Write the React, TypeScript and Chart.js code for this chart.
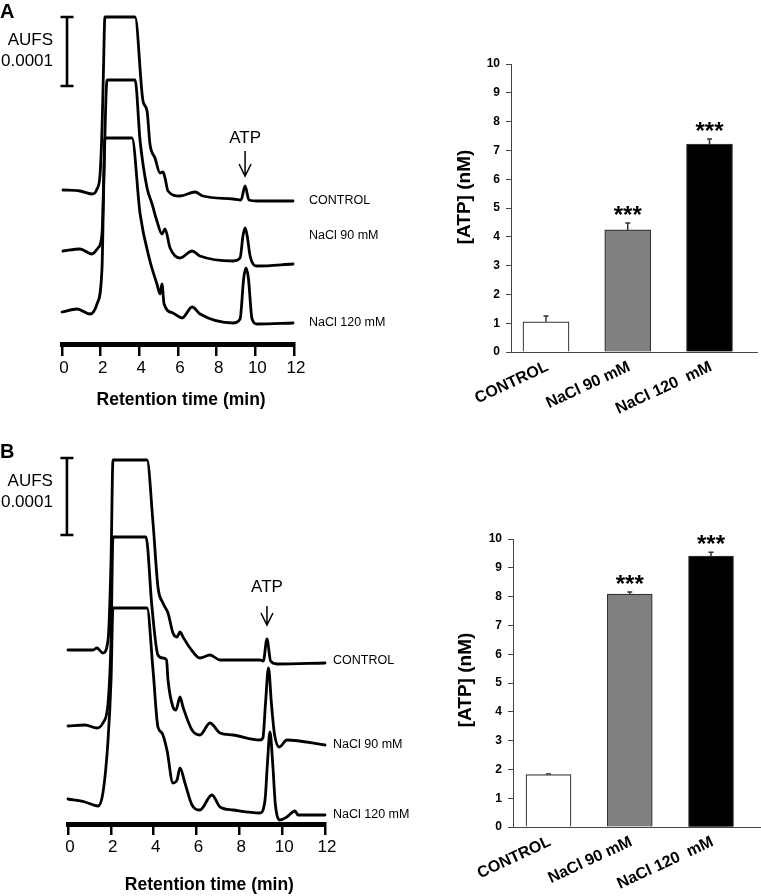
import React, { useEffect, useRef } from "react";
import { Chart, registerables } from "chart.js";

Chart.register(...registerables);

const FONT = '"Liberation Sans", Arial, Helvetica, sans-serif';

// ---------- Panel A chromatograms: retention time (min) / detector signal (a.u.) ----------
const aControlTime = [0.05, 0.93, 1.55, 1.81, 1.97, 2.07, 2.14, 2.22, 3.78, 4.19, 4.4, 4.55, 4.81, 5.07, 5.22, 5.33, 5.48, 6.1, 6.88, 7.29, 8.85, 9.26, 9.47, 9.67, 10.09, 11.95];
const aControlSignal = [154, 153, 150, 155, 170, 215, 270, 327, 327, 243, 233, 200, 186, 171, 172, 166, 153, 148, 152, 148, 145, 144, 158, 144, 143, 143];
const aNa90Time = [0.05, 0.93, 1.55, 1.86, 2.07, 2.17, 2.33, 3.78, 4.04, 4.4, 4.66, 4.91, 5.17, 5.33, 5.59, 6.1, 6.73, 7.14, 8.85, 9.21, 9.36, 9.47, 9.58, 9.73, 10.09, 11.95];
const aNa90Signal = [93, 95, 90, 96, 110, 173, 264, 264, 203, 156, 140, 123, 110, 115, 96, 86, 93, 88, 83, 86, 108, 116, 108, 88, 78, 80];
const aNa120Time = [0, 0.78, 1.45, 1.81, 2.07, 2.15, 2.22, 3.62, 4.04, 4.55, 4.91, 5.07, 5.17, 5.28, 5.74, 6.21, 6.73, 7.14, 8.85, 9.21, 9.4, 9.52, 9.64, 9.83, 10.09, 11.95];
const aNa120Signal = [32, 35, 30, 40, 76, 150, 206, 206, 130, 83, 60, 50, 60, 40, 31, 26, 37, 30, 21, 25, 66, 76, 66, 25, 20, 21];

// ---------- Panel B chromatograms ----------
const bControlTime = [0, 1.17, 1.35, 1.63, 1.87, 2.01, 2.1, 3.69, 3.97, 4.2, 4.43, 4.67, 4.9, 5.09, 5.23, 5.37, 5.7, 6.16, 6.63, 7.1, 8.96, 9.12, 9.29, 9.46, 9.76, 12];
const bControlSignal = [174, 174, 176, 171, 184, 264, 364, 364, 301, 237, 221, 211, 191, 187, 192, 187, 176, 166, 169, 164, 164, 163, 185, 163, 160, 161];
const bNa90Time = [0, 0.79, 1.35, 1.63, 1.87, 2.01, 2.1, 3.64, 3.92, 4.2, 4.43, 4.6, 4.67, 4.9, 5.04, 5.23, 5.37, 5.79, 6.16, 6.63, 7.1, 7.7, 8.96, 9.1, 9.22, 9.36, 9.5, 9.64, 9.87, 10.22, 12];
const bNa90Signal = [98, 99, 96, 101, 121, 184, 287, 287, 217, 169, 166, 164, 144, 117, 114, 127, 117, 94, 89, 101, 91, 89, 84, 86, 120, 156, 120, 90, 77, 84, 79];
const bNa120Time = [0, 0.79, 1.4, 1.63, 1.87, 2.01, 2.1, 3.69, 3.97, 4.2, 4.39, 4.62, 4.9, 5.09, 5.23, 5.46, 5.79, 6.16, 6.72, 7.1, 7.7, 8.96, 9.2, 9.31, 9.43, 9.56, 9.68, 9.9, 10.22, 10.6, 10.74, 12];
const bNa120Signal = [25, 22, 18, 31, 84, 144, 216, 216, 154, 97, 91, 74, 41, 44, 56, 41, 19, 14, 29, 17, 14, 11, 24, 60, 92, 60, 20, 4, 7, 13, 9, 9];

const retentionTicks = [0, 2, 4, 6, 8, 10, 12];
const traceNames = ["CONTROL", "NaCl 90 mM", "NaCl 120 mM"];

// ---------- Bar charts: [ATP] (nM) ----------
const barCategories = ["CONTROL", "NaCl 90 mM", "NaCl 120  mM"];
const atpA = [1.05, 4.24, 7.22];
const atpErrA = [0.2, 0.24, 0.18];
const atpB = [1.82, 8.09, 9.41];
const atpErrB = [0.02, 0.07, 0.13];
const significance = ["", "***", "***"];
const barColors = ["#ffffff", "#808080", "#000000"];
const atpTicks = [0, 1, 2, 3, 4, 5, 6, 7, 8, 9, 10];

type ChromCfg = {
  letter: string;
  traces: { time: number[]; signal: number[] }[];
  padding: { left: number; right: number; top: number; bottom: number };
  axisHeight: number;
  tickLength: number;
  yMax: number;
  scaleBarTime: number;
  scaleBarTop: number;
  scaleBarBottom: number;
  atpTime: number;
  atpTextLevel: number;
  arrowTop: number;
  arrowBottom: number;
  labelGap: number;
  labelLevels: number[];
  titleTime: number;
  titleDy: number;
};

const chromA: ChromCfg = {
  letter: "A",
  traces: [
    { time: aControlTime, signal: aControlSignal },
    { time: aNa90Time, signal: aNa90Signal },
    { time: aNa120Time, signal: aNa120Signal },
  ],
  padding: { left: 62, right: 106, top: 4, bottom: 0 },
  axisHeight: 76,
  tickLength: 12,
  yMax: 340,
  scaleBarTime: 0.26,
  scaleBarTop: 327,
  scaleBarBottom: 258,
  atpTime: 9.47,
  atpTextLevel: 206,
  arrowTop: 193,
  arrowBottom: 168,
  labelGap: 15,
  labelLevels: [143, 108, 21],
  titleTime: 6.16,
  titleDy: 56,
};

const chromB: ChromCfg = {
  letter: "B",
  traces: [
    { time: bControlTime, signal: bControlSignal },
    { time: bNa90Time, signal: bNa90Signal },
    { time: bNa120Time, signal: bNa120Signal },
  ],
  padding: { left: 68, right: 95, top: 14, bottom: 0 },
  axisHeight: 72,
  tickLength: 11,
  yMax: 370,
  scaleBarTime: -0.05,
  scaleBarTop: 366,
  scaleBarBottom: 289,
  atpTime: 9.29,
  atpTextLevel: 237,
  arrowTop: 218,
  arrowBottom: 199,
  labelGap: 8,
  labelLevels: [163, 79, 9],
  titleTime: 6.6,
  titleDy: 61,
};

function makeChrom(canvas: HTMLCanvasElement, cfg: ChromCfg) {
  const annot = {
    id: "chromAnnot",
    afterDraw(chart: any) {
      const { ctx, chartArea } = chart;
      const xs = chart.scales.x;
      const ys = chart.scales.y;
      ctx.save();
      ctx.fillStyle = "#000";
      ctx.strokeStyle = "#000";
      // panel letter
      ctx.font = `bold 20px ${FONT}`;
      ctx.textAlign = "left";
      ctx.textBaseline = "top";
      ctx.fillText(cfg.letter, 0, 2);
      // scale bar
      const bx = xs.getPixelForValue(cfg.scaleBarTime);
      const b0 = ys.getPixelForValue(cfg.scaleBarTop);
      const b1 = ys.getPixelForValue(cfg.scaleBarBottom);
      ctx.lineWidth = 2.6;
      ctx.beginPath();
      ctx.moveTo(bx, b0);
      ctx.lineTo(bx, b1);
      ctx.moveTo(bx - 6.5, b0);
      ctx.lineTo(bx + 6.5, b0);
      ctx.moveTo(bx - 6.5, b1);
      ctx.lineTo(bx + 6.5, b1);
      ctx.stroke();
      ctx.font = `17px ${FONT}`;
      ctx.textAlign = "right";
      ctx.textBaseline = "middle";
      ctx.fillText("AUFS", bx - 14, b0 + 23);
      ctx.fillText("0.0001", bx - 14, b0 + 44.5);
      // ATP label + arrow
      const ax = xs.getPixelForValue(cfg.atpTime);
      ctx.textAlign = "center";
      ctx.fillText("ATP", ax, ys.getPixelForValue(cfg.atpTextLevel));
      const a0 = ys.getPixelForValue(cfg.arrowTop);
      const a1 = ys.getPixelForValue(cfg.arrowBottom);
      ctx.lineWidth = 1.5;
      ctx.beginPath();
      ctx.moveTo(ax, a0);
      ctx.lineTo(ax, a1);
      ctx.moveTo(ax - 6, a1 - 12);
      ctx.lineTo(ax, a1);
      ctx.lineTo(ax + 6, a1 - 12);
      ctx.stroke();
      // trace names
      ctx.font = `12.5px ${FONT}`;
      ctx.textAlign = "left";
      traceNames.forEach((n, i) =>
        ctx.fillText(n, chartArea.right + cfg.labelGap, ys.getPixelForValue(cfg.labelLevels[i]))
      );
      // x title
      ctx.font = `bold 17.5px ${FONT}`;
      ctx.textAlign = "center";
      ctx.fillText("Retention time (min)", xs.getPixelForValue(cfg.titleTime), chartArea.bottom + cfg.titleDy);
      ctx.restore();
    },
  };

  return new Chart(canvas, {
    type: "line",
    data: {
      datasets: cfg.traces.map((tr) => ({
        data: tr.time.map((t, i) => ({ x: t, y: tr.signal[i] })),
        borderColor: "#000",
        borderWidth: 2.8,
        pointRadius: 0,
        fill: false,
        cubicInterpolationMode: "monotone",
        clip: false,
        borderJoinStyle: "round",
        borderCapStyle: "round",
      })),
    },
    options: {
      animation: false,
      responsive: false,
      events: [],
      layout: { padding: cfg.padding },
      plugins: { legend: { display: false }, tooltip: { enabled: false } },
      scales: {
        x: {
          type: "linear",
          min: 0,
          max: 12,
          afterFit: (s: any) => {
            s.height = cfg.axisHeight;
          },
          afterBuildTicks: (s: any) => {
            s.ticks = retentionTicks.map((v) => ({ value: v }));
          },
          border: { display: true, color: "#000", width: 5 },
          grid: { display: true, drawOnChartArea: false, drawTicks: true, tickLength: cfg.tickLength, lineWidth: 2.5, color: "#000" },
          ticks: { color: "#000", font: { family: FONT, size: 17 }, padding: 2, maxRotation: 0, autoSkip: false, labelOffset: 2 },
        },
        y: { display: false, min: 0, max: cfg.yMax },
      },
    },
    plugins: [annot],
  } as any);
}

type BarCfg = {
  values: number[];
  errors: number[];
  padding: { left: number; right: number; top: number; bottom: number };
  yAxisWidth: number;
  xAxisHeight: number;
  xMin: number;
  xMax: number;
  yTitleX: number;
  yTitleY: number;
  barThickness: number;
};

const barA: BarCfg = {
  values: atpA,
  errors: atpErrA,
  padding: { left: 0, right: 4, top: 24, bottom: 0 },
  yAxisWidth: 71,
  xAxisHeight: 68,
  xMin: -0.428,
  xMax: 2.581,
  yTitleX: 25,
  yTitleY: 157,
  barThickness: 46,
};

const barB: BarCfg = {
  values: atpB,
  errors: atpErrB,
  padding: { left: 0, right: 1, top: 59, bottom: 0 },
  yAxisWidth: 73,
  xAxisHeight: 69,
  xMin: -0.437,
  xMax: 2.603,
  yTitleX: 26,
  yTitleY: 200,
  barThickness: 45,
};

const LABEL_ANGLE = (25 * Math.PI) / 180;

function makeBar(canvas: HTMLCanvasElement, cfg: BarCfg) {
  const extras = {
    id: "barExtras",
    afterDatasetsDraw(chart: any) {
      const { ctx, chartArea } = chart;
      const xs = chart.scales.x;
      const ys = chart.scales.y;
      const meta = chart.getDatasetMeta(0);
      ctx.save();
      ctx.strokeStyle = "#333";
      ctx.fillStyle = "#000";
      ctx.lineWidth = 1.5;
      meta.data.forEach((bar: any, i: number) => {
        const top = ys.getPixelForValue(cfg.values[i] + cfg.errors[i]);
        ctx.beginPath();
        ctx.moveTo(bar.x, bar.y);
        ctx.lineTo(bar.x, top);
        ctx.moveTo(bar.x - 2.5, top);
        ctx.lineTo(bar.x + 2.5, top);
        ctx.stroke();
        if (significance[i]) {
          ctx.font = `bold 24px ${FONT}`;
          ctx.textAlign = "center";
          ctx.textBaseline = "alphabetic";
          ctx.fillText(significance[i], bar.x, top);
        }
      });
      // rotated category labels
      ctx.font = `bold 16px ${FONT}`;
      ctx.textAlign = "right";
      ctx.textBaseline = "middle";
      barCategories.forEach((label, i) => {
        ctx.save();
        ctx.translate(xs.getPixelForValue(i) + 1.5, chartArea.bottom + 14);
        ctx.rotate(-LABEL_ANGLE);
        ctx.fillText(label, 0, 0);
        ctx.restore();
      });
      // y-axis title
      ctx.translate(cfg.yTitleX, cfg.yTitleY);
      ctx.rotate(-Math.PI / 2);
      ctx.font = `bold 19px ${FONT}`;
      ctx.textAlign = "center";
      ctx.textBaseline = "middle";
      ctx.fillText("[ATP] (nM)", 0, 0);
      ctx.restore();
    },
  };

  return new Chart(canvas, {
    type: "bar",
    data: {
      datasets: [
        {
          data: cfg.values.map((v, i) => ({ x: i, y: v })),
          backgroundColor: barColors,
          borderColor: "#333",
          borderWidth: 1.2,
          barThickness: cfg.barThickness,
        },
      ],
    },
    options: {
      animation: false,
      responsive: false,
      events: [],
      layout: { padding: cfg.padding },
      plugins: { legend: { display: false }, tooltip: { enabled: false } },
      scales: {
        x: {
          type: "linear",
          offset: false,
          min: cfg.xMin,
          max: cfg.xMax,
          afterFit: (s: any) => {
            s.height = cfg.xAxisHeight;
          },
          afterBuildTicks: (s: any) => {
            s.ticks = barCategories.map((_, i) => ({ value: i }));
          },
          grid: { display: false, drawTicks: false, offset: false },
          border: { display: true, color: "#444", width: 1 },
          ticks: { display: false },
        },
        y: {
          min: 0,
          max: 10,
          afterFit: (s: any) => {
            s.width = cfg.yAxisWidth;
          },
          afterBuildTicks: (s: any) => {
            s.ticks = atpTicks.map((v) => ({ value: v }));
          },
          grid: { display: true, drawOnChartArea: false, drawTicks: true, tickLength: 5, color: "#444", lineWidth: 1 },
          border: { display: true, color: "#444", width: 1 },
          ticks: { color: "#000", font: { family: FONT, size: 12, weight: "bold" }, padding: 6 },
        },
      },
    },
    plugins: [extras],
  } as any);
}

function ChartCanvas(props: { left: number; top: number; width: number; height: number; build: (c: HTMLCanvasElement) => Chart }) {
  const ref = useRef<HTMLCanvasElement>(null);
  useEffect(() => {
    const chart = props.build(ref.current as HTMLCanvasElement);
    return () => chart.destroy();
  }, []);
  return (
    <canvas
      ref={ref}
      width={props.width}
      height={props.height}
      style={{ position: "absolute", left: props.left, top: props.top, width: props.width, height: props.height }}
    />
  );
}

export default function App() {
  return (
    <div style={{ position: "absolute", left: 0, top: 0, width: 761, height: 896, background: "#fff", overflow: "hidden" }}>
      <ChartCanvas left={0} top={0} width={400} height={420} build={(c) => makeChrom(c, chromA)} />
      <ChartCanvas left={0} top={440} width={420} height={456} build={(c) => makeChrom(c, chromB)} />
      <ChartCanvas left={440} top={40} width={321} height={380} build={(c) => makeBar(c, barA)} />
      <ChartCanvas left={440} top={480} width={321} height={416} build={(c) => makeBar(c, barB)} />
    </div>
  );
}
